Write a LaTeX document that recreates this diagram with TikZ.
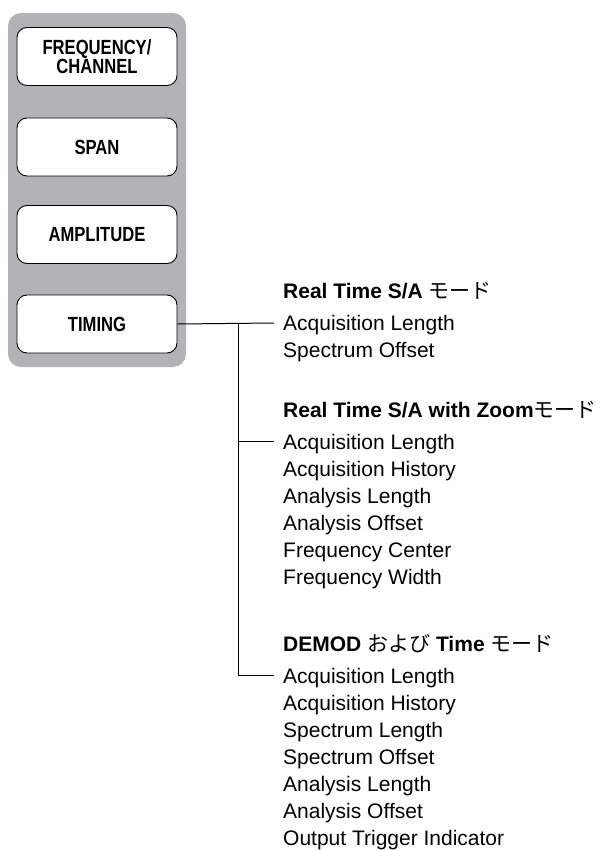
\documentclass[tikz,border=0pt]{standalone}
\usepackage{fontspec}
\setmainfont{Liberation Sans}
\newfontfamily\jpfont{Noto Sans CJK JP}
\newfontfamily\btnfont[FakeStretch=0.81]{Liberation Sans Bold}
\definecolor{panelgray}{RGB}{178,179,181}
\begin{document}
\begin{tikzpicture}[x=1pt,y=1pt,
  panel/.style={fill=panelgray,draw=none,rounded corners=13pt},
  btn/.style={draw=black,fill=white,line width=0.9pt,rounded corners=10pt,
    minimum width=160pt,minimum height=58pt,inner sep=0pt,align=center,
    font=\btnfont\fontsize{20.5}{19.5}\selectfont},
  item/.style={anchor=base west,inner sep=0pt,text height=15pt,text depth=0pt,
    font=\fontsize{21}{25}\selectfont},
  title/.style={anchor=base west,inner sep=0pt,text height=15pt,text depth=0pt,
    font=\bfseries\fontsize{21}{25}\selectfont},
  conn/.style={draw=black,line width=1pt}]
\useasboundingbox (0,0) rectangle (600,-850);
\fill[panel] (8,-13) rectangle (186,-367);
\node[btn] (freq) at (97,-56.5) {FREQUENCY/\\CHANNEL};
\node[btn] (span) at (97,-147) {SPAN};
\node[btn] (ampl) at (97,-234.5) {AMPLITUDE};
\node[btn] (timing) at (97,-324) {TIMING};
% section 1
\node[title] (t1) at (283,-298.5) {Real Time S/A {\jpfont\mdseries モード}};
\node[item] (a1) at (283,-330.5) {Acquisition Length};
\node[item] (a2) at (283,-357.6) {Spectrum Offset};
% section 2
\node[title] (t2) at (283,-417) {Real Time S/A with Zoom{\jpfont\mdseries モード}};
\node[item] (b1) at (283,-449) {Acquisition Length};
\node[item] (b2) at (283,-476.1) {Acquisition History};
\node[item] (b3) at (283,-503.2) {Analysis Length};
\node[item] (b4) at (283,-530.3) {Analysis Offset};
\node[item] (b5) at (283,-557.4) {Frequency Center};
\node[item] (b6) at (283,-584.5) {Frequency Width};
% section 3
\node[title] (t3) at (283,-651) {DEMOD {\jpfont\mdseries および} Time {\jpfont\mdseries モード}};
\node[item] (c1) at (283,-683) {Acquisition Length};
\node[item] (c2) at (283,-710.1) {Acquisition History};
\node[item] (c3) at (283,-737.2) {Spectrum Length};
\node[item] (c4) at (283,-764.3) {Spectrum Offset};
\node[item] (c5) at (283,-791.4) {Analysis Length};
\node[item] (c6) at (283,-818.5) {Analysis Offset};
\node[item] (c7) at (283,-845.6) {Output Trigger Indicator};
% connectors
\coordinate (trunk) at (238,0);
\draw[conn] (timing.east) -- ([xshift=-9pt]a1.west);
\draw[conn] (trunk |- timing.east) |- ([xshift=-9pt]c1.west);
\draw[conn] (trunk |- b1.west) -- ([xshift=-9pt]b1.west);
\end{tikzpicture}
\end{document}
